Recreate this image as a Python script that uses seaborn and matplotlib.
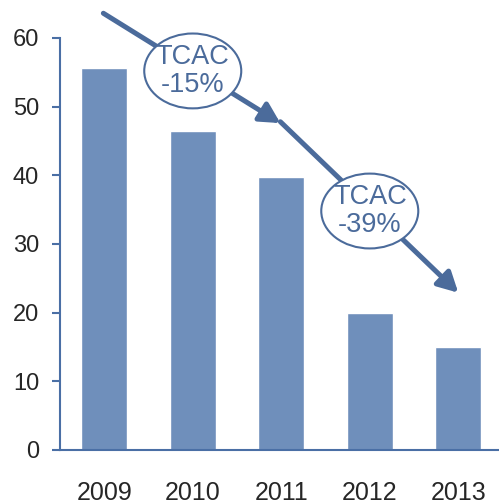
import numpy as np
import pandas as pd
import matplotlib
matplotlib.use("Agg")
import matplotlib.pyplot as plt
import seaborn as sns
from matplotlib.patches import Ellipse

# Data
years = ["2009", "2010", "2011", "2012", "2013"]
values = [55.7, 46.4, 39.7, 19.9, 15.0]
cagr_labels = ["TCAC\n-15%", "TCAC\n-39%"]

bar_color = "#6F8FBB"
axis_color = "#4A6FA5"
arrow_color = "#4B6B9B"

sns.set_style("white")
plt.rcParams["font.family"] = ["Liberation Sans", "DejaVu Sans"]

df = pd.DataFrame({"year": years, "value": values})

fig = plt.figure(figsize=(4.99, 5.03), dpi=100)
ax = fig.add_axes([0.1202, 0.1054, 0.8798, 0.8191])

sns.barplot(data=df, x="year", y="value", color=bar_color, saturation=1,
            width=0.52, ax=ax)

ax.set_xlim(-0.5, 4.46)
ax.set_ylim(0, 60)
ax.set_yticks(np.arange(0, 61, 10))
ax.set_xlabel("")
ax.set_ylabel("")

for side in ["top", "right"]:
    ax.spines[side].set_visible(False)
for side in ["left", "bottom"]:
    ax.spines[side].set_color(axis_color)
    ax.spines[side].set_linewidth(1.5)

ax.tick_params(axis="y", direction="out", length=6, width=1.5,
               color=axis_color, labelsize=17, labelcolor="#262626", pad=9,
               left=True)
ax.tick_params(axis="x", length=0, labelsize=18, labelcolor="#262626", pad=22)

# CAGR arrows between the bars (data coordinates)
arrow_kw = dict(arrowstyle="-|>,head_length=0.6,head_width=0.32",
                lw=3.6, color=arrow_color, mutation_scale=20,
                shrinkA=0, shrinkB=0, capstyle="round")
segments = [((-0.01, 63.6), (1.99, 47.6)), ((1.99, 47.8), (4.0, 22.9))]
for (start, end) in segments:
    ax.annotate("", xy=end, xytext=start, arrowprops=arrow_kw,
                annotation_clip=False, zorder=4)

centers = [(1.0, 55.2), (3.0, 34.8)]
for (cx, cy), label in zip(centers, cagr_labels):
    ell = Ellipse((cx, cy), width=1.096, height=10.9, facecolor="white",
                  edgecolor=arrow_color, lw=1.5, zorder=5, clip_on=False)
    ax.add_patch(ell)
    ax.text(cx, cy, label, ha="center", va="center", fontsize=19.5,
            color=arrow_color, linespacing=1.1, zorder=6)

fig.savefig("out.png", dpi=100)
